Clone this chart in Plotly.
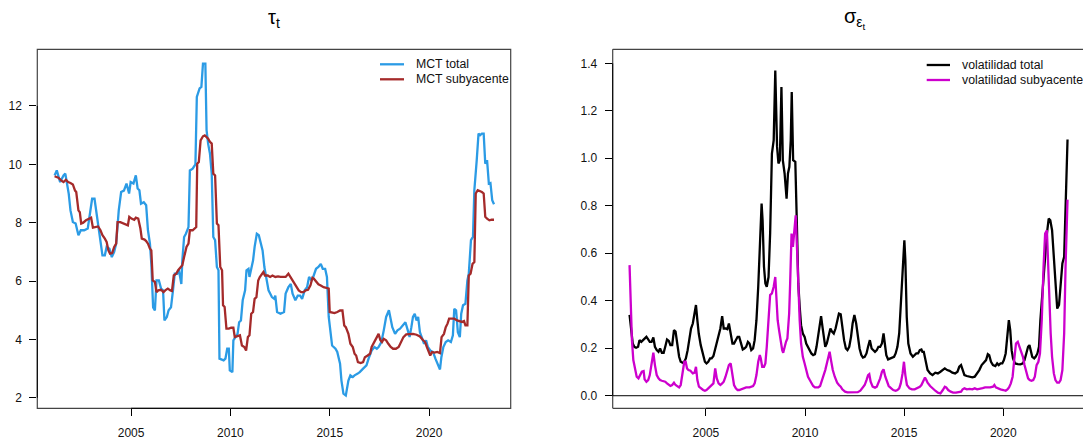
import plotly.graph_objects as go

# ---------------- data (decimal years, values) ----------------
tau_total_t = [2001.15, 2001.26, 2001.43, 2001.60, 2001.69, 2001.86, 2001.95, 2002.07, 2002.21, 2002.35,
               2002.47, 2002.64, 2002.82, 2002.94, 2003.04, 2003.16, 2003.28, 2003.42, 2003.56, 2003.68,
               2003.77, 2003.91, 2004.03, 2004.15, 2004.25, 2004.38, 2004.50, 2004.64, 2004.77, 2004.90,
               2004.98, 2005.12, 2005.24, 2005.33, 2005.42, 2005.50, 2005.64, 2005.76, 2005.85, 2005.95,
               2006.02, 2006.11, 2006.20, 2006.28, 2006.40, 2006.51, 2006.61, 2006.68, 2006.80, 2006.89,
               2007.01, 2007.11, 2007.20, 2007.32, 2007.41, 2007.53, 2007.58, 2007.67, 2007.76, 2007.89,
               2007.96, 2008.10, 2008.24, 2008.31, 2008.45, 2008.54, 2008.62, 2008.74, 2008.80, 2008.88,
               2008.97, 2009.06, 2009.14, 2009.23, 2009.32, 2009.40, 2009.45, 2009.66, 2009.75, 2009.84,
               2009.92, 2009.97, 2010.10, 2010.15, 2010.27, 2010.36, 2010.44, 2010.53, 2010.62, 2010.74,
               2010.81, 2010.91, 2010.96, 2011.05, 2011.14, 2011.22, 2011.33, 2011.43, 2011.53, 2011.62,
               2011.71, 2011.83, 2011.92, 2012.00, 2012.09, 2012.21, 2012.26, 2012.35, 2012.52, 2012.70,
               2012.78, 2012.92, 2013.04, 2013.13, 2013.27, 2013.39, 2013.51, 2013.61, 2013.74, 2013.86,
               2013.96, 2014.08, 2014.17, 2014.31, 2014.43, 2014.55, 2014.65, 2014.77, 2014.86, 2014.95,
               2015.03, 2015.12, 2015.29, 2015.38, 2015.52, 2015.59, 2015.69, 2015.81, 2015.94, 2016.04,
               2016.16, 2016.25, 2016.39, 2016.51, 2016.68, 2016.85, 2016.98, 2017.11, 2017.25, 2017.37,
               2017.46, 2017.60, 2017.72, 2017.84, 2017.98, 2018.07, 2018.15, 2018.29, 2018.41, 2018.54,
               2018.67, 2018.81, 2018.93, 2019.02, 2019.11, 2019.19, 2019.28, 2019.37, 2019.45, 2019.54,
               2019.63, 2019.75, 2019.85, 2019.94, 2020.06, 2020.20, 2020.32, 2020.44, 2020.55, 2020.62,
               2020.72, 2020.84, 2020.96, 2021.10, 2021.20, 2021.27, 2021.36, 2021.45, 2021.55, 2021.62,
               2021.71, 2021.83, 2021.93, 2022.00, 2022.11, 2022.21, 2022.28, 2022.40, 2022.49, 2022.57,
               2022.66, 2022.75, 2022.83, 2022.92, 2023.01, 2023.09, 2023.18, 2023.27]
tau_total = [9.62, 9.79, 9.39, 9.62, 9.68, 9.0, 8.42, 8.02, 7.97, 7.57,
             7.74, 7.74, 7.8, 8.3, 8.82, 8.82, 8.2, 7.62, 6.88, 6.88,
             7.17, 7.11, 6.82, 7.0, 7.28, 8.42, 9.05, 9.1, 9.34, 9.0,
             9.39, 9.34, 9.62, 9.17, 9.11, 8.65, 8.7, 8.6, 7.74, 7.28,
             6.59, 5.1, 4.99, 6.02, 6.02, 5.74, 5.68, 4.65, 4.77, 5.0,
             5.1, 5.68, 6.25, 6.25, 6.37, 5.9, 6.7, 7.51, 7.62, 7.85,
             9.79, 9.85, 10.0, 12.31, 12.6, 12.65, 13.45, 13.45, 11.17, 10.7,
             10.37, 9.68, 7.51, 7.4, 6.48, 6.37, 3.34, 3.28, 3.34, 3.68,
             3.68, 2.94, 2.88, 3.97, 4.08, 4.19, 4.59, 4.65, 5.34, 5.68,
             6.37, 6.42, 6.14, 6.48, 6.7, 7.17, 7.62, 7.57, 7.28, 7.05,
             6.48, 6.02, 5.68, 5.57, 5.45, 5.39, 5.5, 4.94, 4.88, 4.94,
             5.57, 5.79, 5.9, 5.57, 5.34, 5.5, 5.5, 5.39, 5.68, 5.79,
             6.14, 6.02, 6.14, 6.42, 6.48, 6.59, 6.42, 6.42, 6.14, 4.77,
             4.37, 3.79, 3.68, 3.57, 3.17, 2.59, 2.14, 2.08, 2.59, 2.77,
             2.71, 2.77, 2.82, 2.88, 3.0, 3.11, 3.39, 3.62, 3.74, 3.68,
             3.74, 3.91, 4.31, 4.77, 5.0, 4.71, 4.42, 4.19, 4.31, 4.37,
             4.48, 4.59, 4.31, 4.08, 4.42, 4.77, 4.88, 4.65, 4.77, 4.25,
             4.08, 3.85, 3.97, 3.74, 3.62, 3.57, 3.34, 3.17, 2.97, 3.39,
             3.74, 3.91, 3.97, 3.91, 4.14, 5.05, 5.0, 4.25, 4.08, 4.88,
             5.17, 5.22, 6.02, 6.25, 7.4, 7.51, 9.11, 10.14, 11.05, 11.0,
             11.05, 11.05, 10.02, 10.14, 9.34, 9.36, 8.77, 8.63]

tau_sub_t = [2001.15, 2001.34, 2001.48, 2001.60, 2001.72, 2001.83, 2001.95, 2002.07, 2002.18, 2002.24,
             2002.35, 2002.42, 2002.49, 2002.59, 2002.73, 2002.87, 2002.99, 2003.08, 2003.21, 2003.34,
             2003.46, 2003.56, 2003.68, 2003.77, 2003.86, 2003.94, 2004.05, 2004.15, 2004.25, 2004.32,
             2004.46, 2004.60, 2004.72, 2004.84, 2004.91, 2005.02, 2005.16, 2005.24, 2005.36, 2005.47,
             2005.54, 2005.68, 2005.76, 2005.85, 2005.95, 2006.02, 2006.09, 2006.20, 2006.28, 2006.37,
             2006.51, 2006.63, 2006.72, 2006.85, 2006.98, 2007.06, 2007.15, 2007.27, 2007.37, 2007.50,
             2007.58, 2007.67, 2007.79, 2007.89, 2007.96, 2008.10, 2008.19, 2008.28, 2008.33, 2008.41,
             2008.50, 2008.62, 2008.71, 2008.80, 2008.88, 2008.97, 2009.06, 2009.14, 2009.23, 2009.32,
             2009.40, 2009.49, 2009.58, 2009.63, 2009.71, 2009.80, 2009.92, 2010.04, 2010.15, 2010.22,
             2010.36, 2010.48, 2010.58, 2010.70, 2010.79, 2010.88, 2010.96, 2011.05, 2011.14, 2011.22,
             2011.31, 2011.40, 2011.48, 2011.57, 2011.66, 2011.74, 2011.88, 2012.00, 2012.12, 2012.26,
             2012.40, 2012.52, 2012.64, 2012.78, 2012.92, 2013.04, 2013.16, 2013.30, 2013.44, 2013.56,
             2013.68, 2013.79, 2013.91, 2014.03, 2014.13, 2014.20, 2014.31, 2014.43, 2014.55, 2014.69,
             2014.83, 2014.95, 2015.00, 2015.12, 2015.24, 2015.38, 2015.52, 2015.64, 2015.73, 2015.81,
             2015.94, 2016.04, 2016.16, 2016.25, 2016.33, 2016.42, 2016.56, 2016.68, 2016.77, 2016.91,
             2017.03, 2017.11, 2017.25, 2017.37, 2017.46, 2017.55, 2017.63, 2017.72, 2017.84, 2017.95,
             2018.07, 2018.19, 2018.33, 2018.47, 2018.59, 2018.71, 2018.85, 2019.02, 2019.19, 2019.37,
             2019.54, 2019.68, 2019.80, 2019.89, 2019.97, 2020.06, 2020.15, 2020.27, 2020.41, 2020.55,
             2020.63, 2020.75, 2020.84, 2020.93, 2021.01, 2021.14, 2021.27, 2021.41, 2021.53, 2021.66,
             2021.76, 2021.83, 2021.93, 2022.00, 2022.09, 2022.19, 2022.28, 2022.35, 2022.45, 2022.57,
             2022.66, 2022.75, 2022.83, 2022.92, 2023.04, 2023.15, 2023.27]
tau_sub = [9.59, 9.54, 9.45, 9.39, 9.47, 9.39, 9.36, 9.31, 9.1, 9.05,
           8.42, 8.36, 7.97, 8.0, 8.08, 8.14, 8.17, 7.83, 7.85, 7.87,
           7.74, 7.57, 7.45, 7.34, 7.05, 6.94, 6.96, 7.17, 7.28, 8.02,
           8.02, 7.97, 7.94, 7.91, 8.2, 8.14, 8.1, 8.17, 8.14, 7.8,
           7.45, 7.42, 7.37, 7.28, 7.11, 7.05, 6.02, 5.97, 5.62, 5.68,
           5.7, 5.62, 5.68, 5.74, 5.68, 5.66, 6.19, 6.25, 6.37, 6.48,
           6.54, 6.82, 7.17, 7.28, 7.74, 7.74, 7.8, 7.85, 10.02, 10.08,
           10.82, 10.96, 10.99, 10.94, 10.88, 10.77, 10.71, 9.68, 9.62, 7.97,
           7.91, 6.48, 6.37, 5.17, 5.11, 4.37, 4.37, 4.4, 4.4, 4.08,
           4.1, 4.14, 3.79, 3.74, 3.62, 4.08, 4.14, 4.88, 4.94, 5.39,
           5.45, 6.02, 6.14, 6.25, 6.31, 6.19, 6.19, 6.14, 6.19, 6.14,
           6.16, 6.14, 6.14, 6.14, 6.25, 6.11, 5.97, 5.85, 5.68, 5.62,
           5.62, 5.68, 5.7, 5.85, 6.11, 6.08, 5.97, 5.89, 5.85, 5.79,
           5.77, 5.74, 4.94, 4.91, 4.9, 4.94, 4.99, 4.99, 4.48, 4.42,
           4.19, 3.85, 3.74, 3.51, 3.45, 3.22, 3.19, 3.22, 3.39, 3.45,
           3.51, 3.74, 3.91, 4.08, 4.19, 3.97, 3.91, 4.02, 3.97, 3.85,
           3.74, 3.68, 3.68, 3.74, 3.91, 4.08, 4.17, 4.19, 4.19, 4.16,
           4.1, 3.99, 3.91, 3.74, 3.57, 3.45, 3.57, 3.55, 3.57, 3.53,
           4.08, 4.19, 4.42, 4.54, 4.71, 4.71, 4.71, 4.65, 4.63, 4.6,
           4.63, 4.48, 4.48, 6.19, 6.25, 6.59, 6.65, 9.0, 9.11, 9.09,
           9.05, 9.0, 8.2, 8.14, 8.08, 8.1, 8.1]

vol_total_t = [2001.15, 2001.22, 2001.31, 2001.39, 2001.48, 2001.58, 2001.65, 2001.74, 2001.83, 2001.91,
               2002.00, 2002.09, 2002.17, 2002.26, 2002.35, 2002.43, 2002.52, 2002.61, 2002.69, 2002.78,
               2002.87, 2002.95, 2003.04, 2003.13, 2003.21, 2003.30, 2003.39, 2003.47, 2003.56, 2003.65,
               2003.73, 2003.82, 2003.91, 2003.99, 2004.08, 2004.17, 2004.25, 2004.34, 2004.43, 2004.50,
               2004.57, 2004.64, 2004.74, 2004.86, 2004.95, 2005.03, 2005.12, 2005.21, 2005.29, 2005.38,
               2005.47, 2005.55, 2005.64, 2005.73, 2005.82, 2005.90, 2005.99, 2006.08, 2006.16, 2006.25,
               2006.34, 2006.42, 2006.51, 2006.60, 2006.68, 2006.77, 2006.86, 2006.94, 2007.03, 2007.12,
               2007.20, 2007.29, 2007.38, 2007.46, 2007.55, 2007.64, 2007.72, 2007.81, 2007.86, 2007.93,
               2008.00, 2008.07, 2008.16, 2008.24, 2008.33, 2008.42, 2008.50, 2008.59, 2008.66, 2008.73,
               2008.81, 2008.88, 2008.97, 2009.07, 2009.14, 2009.21, 2009.28, 2009.33, 2009.40, 2009.51,
               2009.58, 2009.66, 2009.73, 2009.80, 2009.89, 2009.98, 2010.06, 2010.15, 2010.24, 2010.32,
               2010.41, 2010.50, 2010.58, 2010.67, 2010.76, 2010.81, 2010.88, 2010.95, 2011.02, 2011.10,
               2011.19, 2011.28, 2011.36, 2011.45, 2011.54, 2011.62, 2011.71, 2011.80, 2011.88, 2011.97,
               2012.06, 2012.14, 2012.23, 2012.32, 2012.40, 2012.49, 2012.58, 2012.66, 2012.75, 2012.84,
               2012.92, 2013.01, 2013.10, 2013.18, 2013.27, 2013.36, 2013.44, 2013.53, 2013.62, 2013.70,
               2013.79, 2013.88, 2013.96, 2014.03, 2014.10, 2014.19, 2014.31, 2014.40, 2014.49, 2014.57,
               2014.66, 2014.75, 2014.83, 2014.92, 2015.01, 2015.06, 2015.13, 2015.21, 2015.32, 2015.44,
               2015.53, 2015.61, 2015.70, 2015.79, 2015.87, 2015.92, 2015.99, 2016.08, 2016.18, 2016.31,
               2016.43, 2016.57, 2016.70, 2016.83, 2016.95, 2017.05, 2017.17, 2017.29, 2017.43, 2017.57,
               2017.69, 2017.78, 2017.87, 2017.95, 2018.04, 2018.16, 2018.30, 2018.44, 2018.56, 2018.68,
               2018.79, 2018.91, 2019.03, 2019.13, 2019.22, 2019.29, 2019.38, 2019.48, 2019.60, 2019.69,
               2019.77, 2019.86, 2019.95, 2020.03, 2020.12, 2020.21, 2020.28, 2020.35, 2020.42, 2020.49,
               2020.59, 2020.73, 2020.87, 2020.99, 2021.07, 2021.16, 2021.25, 2021.32, 2021.39, 2021.46,
               2021.56, 2021.63, 2021.72, 2021.80, 2021.87, 2021.94, 2022.03, 2022.11, 2022.20, 2022.29,
               2022.37, 2022.46, 2022.55, 2022.63, 2022.72, 2022.81, 2022.89, 2022.98, 2023.07, 2023.12,
               2023.19, 2023.24]
vol_total = [0.34, 0.276, 0.22, 0.206, 0.202, 0.206, 0.234, 0.227, 0.234, 0.237,
             0.248, 0.237, 0.227, 0.227, 0.245, 0.206, 0.192, 0.185, 0.199, 0.181,
             0.181, 0.206, 0.237, 0.231, 0.213, 0.213, 0.276, 0.27, 0.206, 0.164,
             0.143, 0.139, 0.143, 0.157, 0.192, 0.234, 0.283, 0.304, 0.353, 0.382,
             0.318, 0.262, 0.213, 0.171, 0.143, 0.136, 0.143, 0.157, 0.157, 0.167,
             0.199, 0.22, 0.255, 0.283, 0.335, 0.283, 0.283, 0.28, 0.304, 0.255,
             0.22, 0.22, 0.234, 0.248, 0.248, 0.22, 0.195, 0.199, 0.206, 0.227,
             0.22, 0.192, 0.199, 0.234, 0.318, 0.459, 0.655, 0.809, 0.739, 0.543,
             0.473, 0.459, 0.5, 0.683, 1.02, 1.076, 1.37, 1.048, 0.978, 0.992,
             1.30, 0.992, 0.936, 0.83, 0.936, 0.964, 1.076, 1.279, 0.992, 0.985,
             0.753, 0.473, 0.375, 0.297, 0.262, 0.248, 0.22, 0.206, 0.192, 0.178,
             0.171, 0.175, 0.206, 0.262, 0.311, 0.335, 0.29, 0.234, 0.206, 0.22,
             0.248, 0.283, 0.27, 0.262, 0.283, 0.318, 0.346, 0.343, 0.283, 0.234,
             0.199, 0.192, 0.206, 0.248, 0.304, 0.34, 0.304, 0.248, 0.199, 0.171,
             0.161, 0.164, 0.178, 0.206, 0.234, 0.199, 0.192, 0.185, 0.192, 0.206,
             0.206, 0.22, 0.262, 0.213, 0.171, 0.153, 0.157, 0.161, 0.164, 0.178,
             0.206, 0.262, 0.403, 0.543, 0.655, 0.571, 0.332, 0.22, 0.178, 0.164,
             0.171, 0.178, 0.178, 0.192, 0.195, 0.185, 0.185, 0.143, 0.108, 0.094,
             0.087, 0.097, 0.094, 0.101, 0.108, 0.115, 0.108, 0.105, 0.097, 0.094,
             0.101, 0.122, 0.129, 0.108, 0.087, 0.083, 0.08, 0.077, 0.08, 0.094,
             0.108, 0.129, 0.139, 0.15, 0.175, 0.171, 0.143, 0.129, 0.125, 0.136,
             0.129, 0.136, 0.136, 0.15, 0.178, 0.248, 0.318, 0.276, 0.192, 0.157,
             0.136, 0.133, 0.132, 0.136, 0.15, 0.178, 0.206, 0.213, 0.185, 0.164,
             0.157, 0.164, 0.178, 0.206, 0.318, 0.403, 0.5, 0.6, 0.683, 0.746,
             0.739, 0.697, 0.571, 0.445, 0.367, 0.382, 0.459, 0.557, 0.585, 0.767,
             0.936, 1.079]

vol_sub_t = [2001.15, 2001.20, 2001.27, 2001.34, 2001.43, 2001.51, 2001.60, 2001.69, 2001.77, 2001.86,
             2001.91, 2002.00, 2002.09, 2002.17, 2002.26, 2002.35, 2002.43, 2002.52, 2002.61, 2002.69,
             2002.78, 2002.87, 2002.95, 2003.04, 2003.13, 2003.21, 2003.30, 2003.39, 2003.47, 2003.56,
             2003.65, 2003.73, 2003.82, 2003.91, 2003.98, 2004.05, 2004.12, 2004.22, 2004.34, 2004.43,
             2004.50, 2004.57, 2004.65, 2004.74, 2004.86, 2004.95, 2005.03, 2005.12, 2005.21, 2005.29,
             2005.38, 2005.47, 2005.55, 2005.64, 2005.73, 2005.82, 2005.90, 2005.99, 2006.08, 2006.16,
             2006.25, 2006.34, 2006.42, 2006.51, 2006.60, 2006.68, 2006.77, 2006.86, 2006.94, 2007.03,
             2007.20, 2007.38, 2007.46, 2007.55, 2007.64, 2007.72, 2007.77, 2007.84, 2007.93, 2008.00,
             2008.07, 2008.16, 2008.24, 2008.33, 2008.42, 2008.50, 2008.55, 2008.62, 2008.69, 2008.76,
             2008.85, 2008.90, 2008.97, 2009.04, 2009.11, 2009.20, 2009.25, 2009.32, 2009.39, 2009.46,
             2009.53, 2009.60, 2009.66, 2009.73, 2009.80, 2009.89, 2009.98, 2010.06, 2010.15, 2010.24,
             2010.32, 2010.41, 2010.50, 2010.58, 2010.67, 2010.76, 2010.84, 2010.93, 2011.02, 2011.10,
             2011.19, 2011.24, 2011.31, 2011.40, 2011.50, 2011.62, 2011.71, 2011.80, 2011.88, 2012.02,
             2012.14, 2012.32, 2012.49, 2012.66, 2012.79, 2012.89, 2013.01, 2013.10, 2013.18, 2013.24,
             2013.31, 2013.41, 2013.53, 2013.62, 2013.70, 2013.79, 2013.88, 2013.96, 2014.05, 2014.14,
             2014.22, 2014.35, 2014.45, 2014.57, 2014.66, 2014.75, 2014.83, 2014.92, 2014.99, 2015.06,
             2015.14, 2015.27, 2015.39, 2015.53, 2015.66, 2015.79, 2015.87, 2015.96, 2016.05, 2016.12,
             2016.18, 2016.31, 2016.43, 2016.57, 2016.70, 2016.83, 2016.95, 2017.05, 2017.12, 2017.22,
             2017.35, 2017.47, 2017.61, 2017.74, 2017.87, 2017.95, 2018.04, 2018.16, 2018.30, 2018.44,
             2018.56, 2018.68, 2018.82, 2018.96, 2019.08, 2019.20, 2019.34, 2019.48, 2019.55, 2019.62,
             2019.72, 2019.86, 2020.00, 2020.12, 2020.21, 2020.29, 2020.38, 2020.47, 2020.55, 2020.64,
             2020.73, 2020.81, 2020.90, 2020.99, 2021.07, 2021.16, 2021.25, 2021.33, 2021.42, 2021.51,
             2021.59, 2021.68, 2021.77, 2021.85, 2021.94, 2022.03, 2022.11, 2022.20, 2022.25, 2022.32,
             2022.39, 2022.46, 2022.55, 2022.63, 2022.72, 2022.81, 2022.89, 2022.98, 2023.07, 2023.14,
             2023.21, 2023.24]
vol_sub = [0.55, 0.403, 0.234, 0.15, 0.115, 0.08, 0.073, 0.087, 0.101, 0.104,
           0.069, 0.059, 0.066, 0.087, 0.129, 0.181, 0.129, 0.087, 0.073, 0.066,
           0.063, 0.062, 0.059, 0.052, 0.045, 0.041, 0.045, 0.055, 0.045, 0.038,
           0.035, 0.045, 0.101, 0.143, 0.143, 0.115, 0.108, 0.105, 0.094, 0.097,
           0.122, 0.066, 0.038, 0.031, 0.024, 0.021, 0.024, 0.031, 0.038, 0.041,
           0.052, 0.115, 0.073, 0.052, 0.045, 0.052, 0.059, 0.08, 0.108, 0.129,
           0.136, 0.08, 0.045, 0.031, 0.024, 0.024, 0.027, 0.031, 0.031, 0.035,
           0.035, 0.041, 0.052, 0.087, 0.143, 0.171, 0.157, 0.122, 0.122, 0.136,
           0.206, 0.318, 0.424, 0.431, 0.459, 0.5, 0.417, 0.318, 0.276, 0.234,
           0.192, 0.181, 0.206, 0.227, 0.241, 0.346, 0.473, 0.683, 0.627, 0.683,
           0.76, 0.613, 0.445, 0.318, 0.22, 0.164, 0.136, 0.108, 0.08, 0.066,
           0.052, 0.041, 0.035, 0.034, 0.035, 0.041, 0.059, 0.087, 0.108, 0.136,
           0.178, 0.185, 0.15, 0.108, 0.08, 0.055, 0.045, 0.038, 0.027, 0.017,
           0.014, 0.015, 0.014, 0.015, 0.021, 0.031, 0.045, 0.066, 0.087, 0.091,
           0.059, 0.038, 0.034, 0.038, 0.052, 0.073, 0.101, 0.111, 0.08, 0.055,
           0.041, 0.031, 0.024, 0.021, 0.024, 0.031, 0.052, 0.094, 0.143, 0.087,
           0.045, 0.031, 0.027, 0.027, 0.031, 0.038, 0.045, 0.059, 0.077, 0.066,
           0.055, 0.041, 0.031, 0.021, 0.013, 0.01, 0.024, 0.038, 0.035, 0.024,
           0.017, 0.013, 0.013, 0.014, 0.017, 0.027, 0.031, 0.027, 0.029, 0.027,
           0.031, 0.027, 0.031, 0.032, 0.035, 0.034, 0.035, 0.038, 0.045, 0.035,
           0.031, 0.027, 0.024, 0.021, 0.027, 0.035, 0.052, 0.08, 0.15, 0.22,
           0.227, 0.206, 0.192, 0.164, 0.129, 0.094, 0.073, 0.066, 0.063, 0.066,
           0.08, 0.129, 0.143, 0.178, 0.318, 0.543, 0.683, 0.697, 0.571, 0.403,
           0.262, 0.164, 0.094, 0.066, 0.055, 0.055, 0.066, 0.108, 0.262, 0.543,
           0.823, 0.826]

year_ticks = [2005, 2010, 2015, 2020]
tau_ticks = [2, 4, 6, 8, 10, 12]
vol_ticks = [0.0, 0.2, 0.4, 0.6, 0.8, 1.0, 1.2, 1.4]

left_names = ["MCT total", "MCT subyacente"]
right_names = ["volatilidad total", "volatilidad subyacente"]

# ---------------- styling ----------------
W, H = 1083, 441
FONT = "Liberation Sans, Arial, Helvetica, sans-serif"
C_BLUE = "#2b9be5"
C_BROWN = "#a52a2a"
C_BLACK = "#000000"
C_MAG = "#cd00cd"
LW = 2.3

def px(x):
    return x / W

def py(y):
    return 1 - y / H

L0, L1 = 37.3, 510.7
R0 = 612.7
T0, B0 = 49.3, 408.3

fig = go.Figure()

def pairs(t, v):
    n = min(len(t), len(v))
    return t[:n], v[:n]

x, y = pairs(tau_total_t, tau_total)
fig.add_trace(go.Scatter(x=x, y=y, mode="lines", line=dict(color=C_BLUE, width=LW),
                         name=left_names[0], xaxis="x", yaxis="y", showlegend=False))
x, y = pairs(tau_sub_t, tau_sub)
fig.add_trace(go.Scatter(x=x, y=y, mode="lines", line=dict(color=C_BROWN, width=LW),
                         name=left_names[1], xaxis="x", yaxis="y", showlegend=False))
x, y = pairs(vol_total_t, vol_total)
fig.add_trace(go.Scatter(x=x, y=y, mode="lines", line=dict(color=C_BLACK, width=LW),
                         name=right_names[0], xaxis="x2", yaxis="y2", showlegend=False))
x, y = pairs(vol_sub_t, vol_sub)
fig.add_trace(go.Scatter(x=x, y=y, mode="lines", line=dict(color=C_MAG, width=LW),
                         name=right_names[1], xaxis="x2", yaxis="y2", showlegend=False))

tickfont = dict(family=FONT, size=12, color="#111111")
ydom = [py(B0), py(T0)]

common_x = dict(showgrid=False, zeroline=False, showline=False, ticks="outside", ticklen=7,
                tickwidth=1, tickcolor="#000000", tickfont=tickfont, tickvals=year_ticks,
                ticklabelstandoff=6)
common_y = dict(showgrid=False, zeroline=False, showline=False, ticks="outside", ticklen=7,
                tickwidth=1, tickcolor="#000000", tickfont=tickfont, ticklabelstandoff=5)

fig.update_layout(
    width=W, height=H,
    margin=dict(l=0, r=0, t=0, b=0),
    paper_bgcolor="white", plot_bgcolor="white",
    xaxis=dict(domain=[px(L0), px(L1)], range=[2000.28, 2024.11], anchor="y", **common_x),
    yaxis=dict(domain=ydom, range=[1.64, 13.94], anchor="x", tickvals=tau_ticks, **common_y),
    xaxis2=dict(domain=[px(R0), 1.0], range=[2000.30, 2024.02], anchor="y2", **common_x),
    yaxis2=dict(domain=ydom, range=[-0.053, 1.459], anchor="x2", tickvals=vol_ticks,
                tickformat=".1f", **common_y),
)

shapes = []
frame_col = "#444444"
# left panel box
shapes.append(dict(type="rect", xref="x domain", yref="y domain", x0=0, x1=1, y0=0, y1=1,
                   line=dict(color=frame_col, width=1.2)))
# right panel frame (its right edge lies outside the picture)
for (x0, x1, y0, y1) in [(0, 0, 0, 1), (0, 1, 1, 1), (0, 1, 0, 0)]:
    shapes.append(dict(type="line", xref="x2 domain", yref="y2 domain", x0=x0, x1=x1, y0=y0, y1=y1,
                       line=dict(color=frame_col, width=1.2)))
# axis lines between first/last ticks
shapes.append(dict(type="line", xref="x domain", yref="y", x0=0, x1=0, y0=tau_ticks[0], y1=tau_ticks[-1],
                   line=dict(color="#000", width=1)))
shapes.append(dict(type="line", xref="x", yref="y domain", x0=year_ticks[0], x1=year_ticks[-1], y0=0, y1=0,
                   line=dict(color="#000", width=1)))
shapes.append(dict(type="line", xref="x2 domain", yref="y2", x0=0, x1=0, y0=vol_ticks[0], y1=vol_ticks[-1],
                   line=dict(color="#000", width=1)))
shapes.append(dict(type="line", xref="x2", yref="y2 domain", x0=year_ticks[0], x1=year_ticks[-1], y0=0, y1=0,
                   line=dict(color="#000", width=1)))
# horizontal reference line at zero
shapes.append(dict(type="line", xref="x2 domain", yref="y2", x0=0, x1=1, y0=0, y1=0,
                   line=dict(color="#000", width=1)))

# manual legends
annotations = []
leg = [
    (380, 404, 414, 64.3, C_BLUE, left_names[0]),
    (380, 404, 414, 79.3, C_BROWN, left_names[1]),
    (926.7, 950, 960, 65.0, C_BLACK, right_names[0]),
    (926.7, 950, 960, 80.0, C_MAG, right_names[1]),
]
for (lx0, lx1, tx, ly, col, name) in leg:
    shapes.append(dict(type="line", xref="paper", yref="paper", x0=px(lx0), x1=px(lx1),
                       y0=py(ly), y1=py(ly), line=dict(color=col, width=LW)))
    annotations.append(dict(x=px(tx), y=py(ly), xref="paper", yref="paper", text=name,
                            showarrow=False, xanchor="left", yanchor="middle",
                            font=dict(family=FONT, size=12.3, color="#111111")))

# titles
annotations.append(dict(x=px(274), y=py(18), xref="paper", yref="paper", text="τ<sub>t</sub>",
                        showarrow=False, xanchor="center", yanchor="middle",
                        font=dict(family=FONT, size=20, color="#000")))
annotations.append(dict(x=px(855), y=py(18), xref="paper", yref="paper",
                        text="σ<sub>ε<sub>t</sub></sub>",
                        showarrow=False, xanchor="center", yanchor="middle",
                        font=dict(family=FONT, size=20, color="#000")))

fig.update_layout(shapes=shapes, annotations=annotations)

fig.write_html("out.html",
               config={"displayModeBar": False, "staticPlot": True},
               post_script="document.body.style.margin='0';document.body.style.overflow='hidden';")
